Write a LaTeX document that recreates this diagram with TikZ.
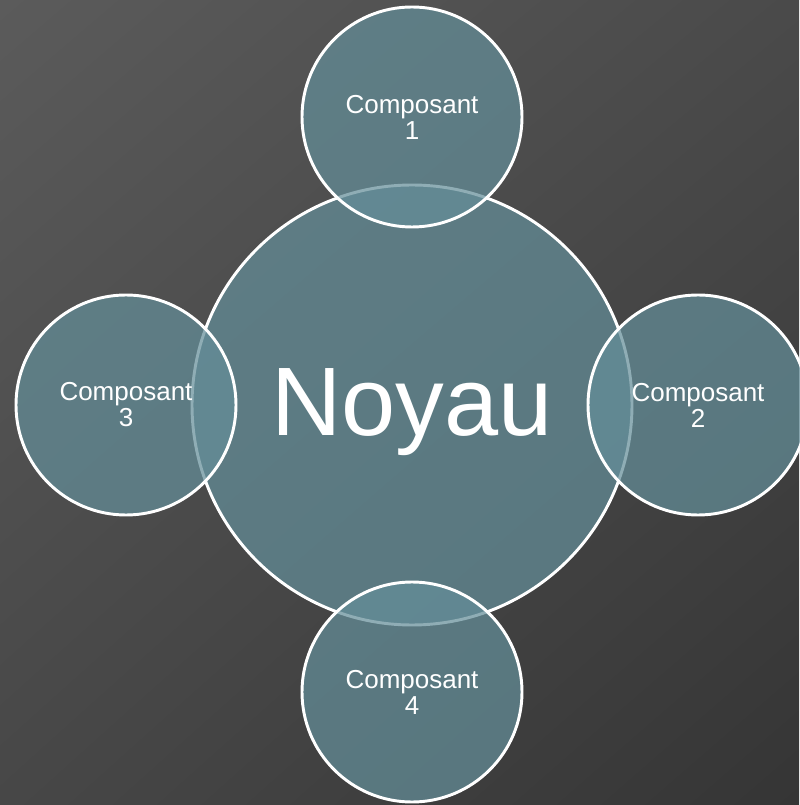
\documentclass[tikz,border=0pt]{standalone}
\usepackage{fontspec}
\setmainfont{Liberation Sans}
\usepackage{tikz}
\usetikzlibrary{positioning}
\usetikzlibrary{calc,shadings}

\definecolor{bgTL}{RGB}{91,91,91}
\definecolor{bgTR}{RGB}{74,74,74}
\definecolor{bgBL}{RGB}{71,71,71}
\definecolor{bgBR}{RGB}{53,53,53}
\definecolor{discFill}{RGB}{100,142,153}

\tikzset{
	disc/.style={circle, draw=white, line width=2.2pt, fill=discFill,
		fill opacity=0.72, text opacity=1, text=white, inner sep=0pt},
	bigdisc/.style={disc, minimum size=330pt,
		font=\fontsize{73}{73}\selectfont},
	smalldisc/.style={disc, minimum size=165pt, align=center,
		font=\fontsize{19.5}{19.5}\selectfont}
}

\begin{document}
\begin{tikzpicture}[x=0.75pt, y=0.75pt]
	
	% background, also fixes the page size (799 x 805)
	\shade[upper left=bgTL, upper right=bgTR, lower left=bgBL, lower right=bgBR]
		(-412,-400) rectangle (387,405);
	\useasboundingbox (-412,-400) rectangle (387,405);
	
	% centre of the diagram
	\coordinate (C) at (0,0);
	
	% the core first, the components are drawn over it
	\node[bigdisc] (noyau) at (C) {\raisebox{-5pt}[\height][\depth]{Noyau}};
	
	% components in polar coordinates from the centre: (angle:radius)
	\node[smalldisc] (comp1) at ($(C) + (90:288)$)  {Composant\\1};
	\node[smalldisc] (comp2) at ($(C) + (0:286)$)   {Composant\\2};
	\node[smalldisc] (comp3) at ($(C) + (180:286)$) {Composant\\3};
	\node[smalldisc] (comp4) at ($(C) + (270:287)$) {Composant\\4};
	
\end{tikzpicture}
\end{document}
